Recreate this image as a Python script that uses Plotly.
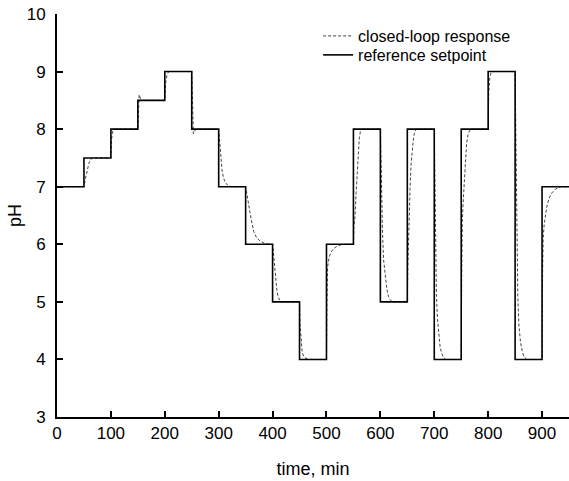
import plotly.graph_objects as go

# Setpoint steps (every 50 min)
step_times = [0, 50, 100, 150, 200, 250, 300, 350, 400, 450, 500, 550, 600, 650, 700, 750, 800, 850, 900, 950]
setpoint_levels = [7, 7.5, 8, 8.5, 9, 8, 7, 6, 5, 4, 6, 8, 5, 8, 4, 8, 9, 4, 7, 7]

# Closed-loop response
resp_t = [0, 50, 53, 56, 59, 62, 66,
          100, 101, 103, 106,
          150, 151, 152.5, 155, 158,
          200, 202, 205, 208,
          250, 251, 253, 256, 260,
          300, 302, 304, 306, 309, 313, 318, 324,
          350, 352, 354, 356, 360, 365, 370, 375, 380, 388, 395,
          400, 402, 404, 406, 408, 410, 413, 416,
          450, 451, 453, 455, 458, 462, 467,
          500, 501, 502, 505, 509, 513, 520, 530,
          550, 551, 553, 555, 557, 559, 561, 563, 566,
          600, 601, 602, 604, 606, 609, 612, 615, 618, 622,
          650, 651, 653, 655, 657, 659, 661, 663, 666,
          700, 701, 702, 703, 704, 706, 708, 711, 714, 717, 721,
          750, 751, 752, 754, 756, 758, 760, 763, 767,
          800, 801, 803, 806,
          850, 851, 852, 853, 854, 855, 857, 860, 863, 866, 871,
          900, 901, 902, 904, 906, 909, 913, 918, 925, 934, 950]
resp_v = [7, 7, 7.15, 7.3, 7.4, 7.47, 7.5,
          7.5, 7.8, 7.95, 8,
          8, 8.4, 8.6, 8.52, 8.5,
          8.5, 8.85, 8.97, 9,
          9, 8.5, 7.92, 7.98, 8,
          8, 7.8, 7.5, 7.3, 7.15, 7.06, 7.02, 7.0,
          7, 6.88, 6.78, 6.68, 6.45, 6.22, 6.12, 6.07, 6.04, 6.01, 6.0,
          6, 5.8, 5.55, 5.35, 5.2, 5.1, 5.03, 5.0,
          5, 4.6, 4.3, 4.12, 4.05, 4.02, 4.0,
          4, 5.0, 5.6, 5.78, 5.87, 5.92, 5.97, 6.0,
          6, 6.3, 6.5, 6.9, 7.3, 7.65, 7.85, 7.96, 8.0,
          8, 7.5, 6.9, 6.2, 5.73, 5.4, 5.22, 5.1, 5.04, 5.0,
          5, 5.6, 6.4, 6.95, 7.4, 7.65, 7.8, 7.92, 8.0,
          8, 7.0, 6.3, 5.6, 5.1, 4.7, 4.45, 4.2, 4.1, 4.04, 4.0,
          4, 5.5, 6.4, 6.8, 7.2, 7.55, 7.75, 7.92, 8.0,
          8, 8.6, 8.9, 9.0,
          9, 8.0, 7.0, 6.3, 5.6, 5.1, 4.6, 4.3, 4.15, 4.06, 4.0,
          4, 5.5, 6.1, 6.35, 6.52, 6.66, 6.8, 6.89, 6.96, 7.0, 7.0]

x_ticks = [0, 100, 200, 300, 400, 500, 600, 700, 800, 900]
y_ticks = [3, 4, 5, 6, 7, 8, 9, 10]

FONT = "Liberation Sans, Arial, Helvetica, sans-serif"

fig = go.Figure()
fig.add_trace(go.Scatter(
    x=resp_t, y=resp_v, mode="lines", name="closed-loop response",
    line=dict(color="#444444", width=1, dash="3px,2px"), legend="legend",
))
fig.add_trace(go.Scatter(
    x=step_times, y=setpoint_levels, mode="lines", name="reference setpoint",
    line=dict(color="black", width=1.6, shape="hv"), legend="legend2",
))

leg_common = dict(xanchor="left", yanchor="top", bgcolor="rgba(0,0,0,0)",
                  borderwidth=0, font=dict(size=16))

fig.update_layout(
    width=569, height=481,
    margin=dict(l=57, r=0, t=14, b=64),
    paper_bgcolor="white", plot_bgcolor="white",
    font=dict(family=FONT, size=17, color="black"),
    showlegend=True,
    legend=dict(x=0.51, y=0.9876, **leg_common),
    legend2=dict(x=0.51, y=0.9405, **leg_common),
    xaxis=dict(range=[0, 950], tickvals=x_ticks, ticks="inside", ticklen=6, tickwidth=1.5,
               tickcolor="black", showline=True, linecolor="black", linewidth=2,
               showgrid=False, zeroline=False,
               title=dict(text="time, min", font=dict(size=18), standoff=20)),
    yaxis=dict(range=[3, 10], tickvals=y_ticks, ticks="inside", ticklen=6, tickwidth=1.5,
               tickcolor="black", showline=True, linecolor="black", linewidth=2,
               showgrid=False, zeroline=False, ticklabelstandoff=6,
               title=dict(text="pH", font=dict(size=18), standoff=0)),
)

fig.write_html("out.html")
